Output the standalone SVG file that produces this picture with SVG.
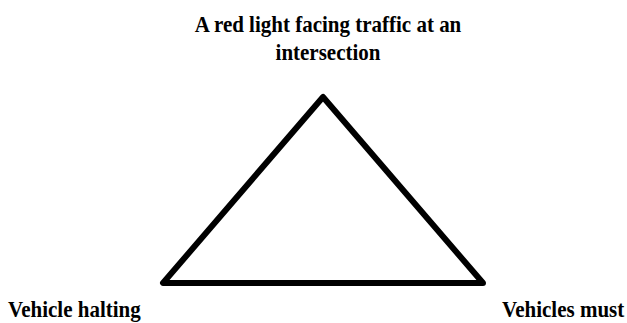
<svg xmlns="http://www.w3.org/2000/svg" width="627" height="323" viewBox="0 0 627 323">
<style>
text{font-family:"Liberation Serif","Times New Roman",serif;font-weight:bold;font-size:21px;fill:#000}
.shape{fill:none;stroke:#000;stroke-width:6;stroke-linejoin:round;stroke-linecap:round}
</style>
<rect width="627" height="323" fill="#fff"/>
<g id="triangle">
<polygon class="shape" points="323,97 163,283 483,283"/>
</g>
<g id="connectors"></g>
<g id="label-top">
<text transform="translate(328,32) scale(1,1.1)" text-anchor="middle">A red light facing traffic at an</text>
<text transform="translate(328,60) scale(1,1.1)" text-anchor="middle">intersection</text>
</g>
<g id="label-left">
<text transform="translate(8,317) scale(1,1.1)">Vehicle halting</text>
</g>
<g id="label-right">
<text transform="translate(502,317) scale(1,1.1)">Vehicles must</text>
</g>
</svg>
